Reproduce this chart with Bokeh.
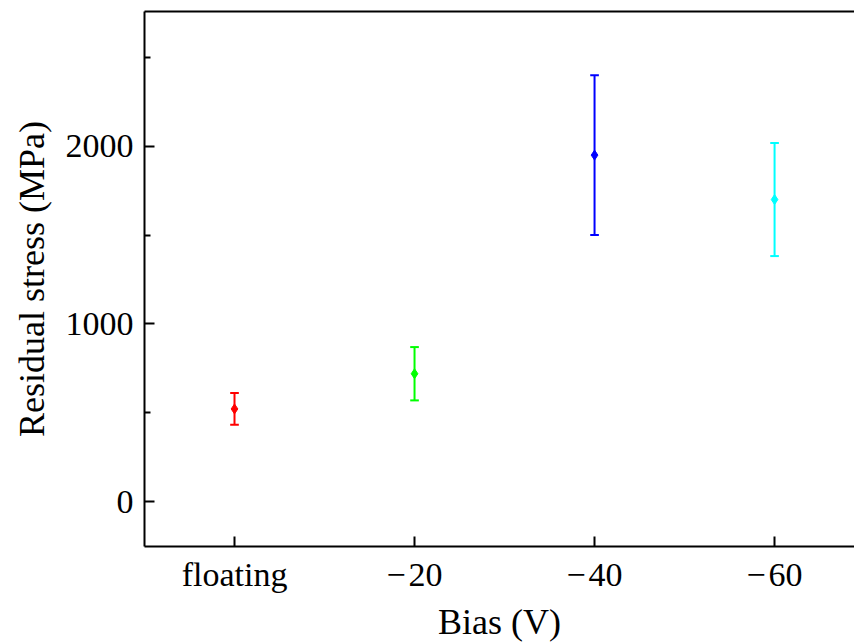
from bokeh.plotting import figure
from bokeh.models import ColumnDataSource, FixedTicker, LinearAxis, Range1d
from bokeh.embed import file_html
from bokeh.resources import INLINE

categories = ["floating", "\u2212\u200a20", "\u2212\u200a40", "\u2212\u200a60"]
stress = [522, 720, 1950, 1700]
error = [89, 150, 450, 318]
colors = ["#ff0000", "#00ff00", "#0000ff", "#00ffff"]

xs = list(range(len(categories)))
cap = 0.024
src = ColumnDataSource(dict(
    x=xs, y=stress,
    lo=[s - e for s, e in zip(stress, error)],
    hi=[s + e for s, e in zip(stress, error)],
    cx0=[x - cap for x in xs], cx1=[x + cap for x in xs],
    color=colors,
))

FONT = "Liberation Serif"

p = figure(width=854, height=644, output_backend="svg", toolbar_location=None,
           x_range=Range1d(-0.5, 3.444), y_range=Range1d(-252, 2758),
           min_border_left=144, min_border_top=11, min_border_bottom=96, min_border_right=0)
p.outline_line_color = None
p.grid.visible = False
p.background_fill_color = "white"

p.segment(x0="x", y0="lo", x1="x", y1="hi", line_color="color", line_width=2, source=src)
p.segment(x0="cx0", y0="lo", x1="cx1", y1="lo", line_color="color", line_width=2, source=src)
p.segment(x0="cx0", y0="hi", x1="cx1", y1="hi", line_color="color", line_width=2, source=src)
p.scatter(x="x", y="y", marker="diamond", size=10, color="color", source=src)

xa = p.xaxis[0]
xa.ticker = FixedTicker(ticks=xs)
xa.major_label_overrides = {i: c for i, c in enumerate(categories)}
xa.axis_label = "Bias (V)"

ya = p.yaxis[0]
ya.ticker = FixedTicker(ticks=[0, 1000, 2000], minor_ticks=[500, 1500, 2500])
ya.axis_label = "Residual stress (MPa)"

for ax in (xa, ya):
    ax.axis_line_width = 2
    ax.axis_line_color = "black"
    ax.major_tick_in = 10
    ax.major_tick_out = 0
    ax.minor_tick_in = 6
    ax.minor_tick_out = 0
    ax.major_tick_line_width = 2
    ax.minor_tick_line_width = 2
    ax.major_label_text_font = FONT
    ax.major_label_text_font_size = "34px"
    ax.major_label_text_color = "black"
    ax.axis_label_text_font = FONT
    ax.axis_label_text_font_size = "36px"
    ax.axis_label_text_font_style = "normal"
    ax.axis_label_text_color = "black"
xa.minor_tick_in = 0
xa.major_label_standoff = 9
xa.axis_label_standoff = 6
ya.major_label_standoff = 11
ya.axis_label_standoff = 11

top = LinearAxis(ticker=FixedTicker(ticks=[]), major_label_text_font_size="0px",
                 axis_line_width=2, major_tick_in=0, major_tick_out=0,
                 minor_tick_in=0, minor_tick_out=0)
p.add_layout(top, "above")

open("out.html", "w").write(file_html(p, INLINE))
